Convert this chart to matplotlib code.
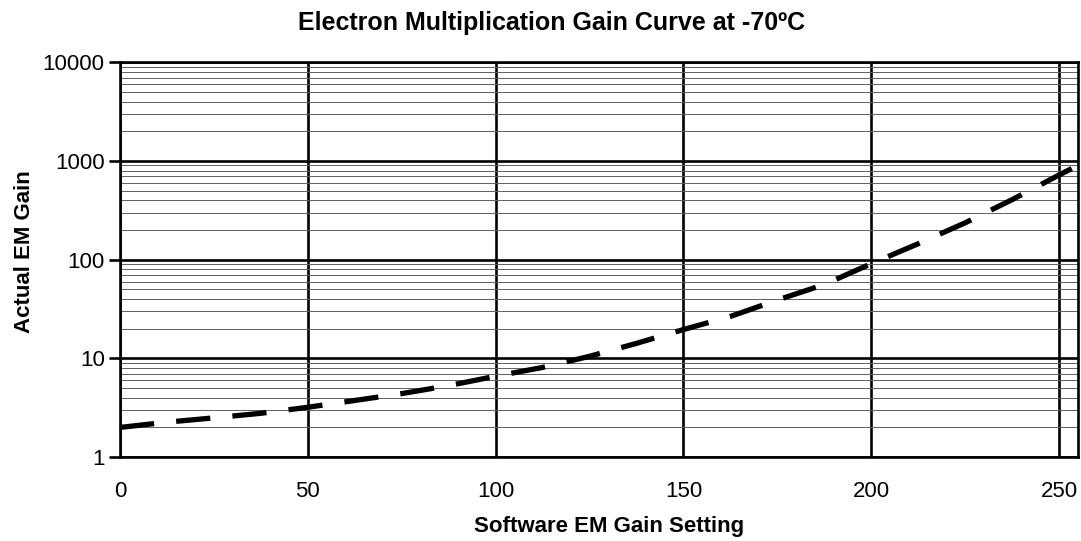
import matplotlib.pyplot as plt
from matplotlib.ticker import LogLocator, FixedLocator, NullFormatter

plt.rcParams['font.family'] = ['Liberation Sans', 'DejaVu Sans']

# values
gain_setting = [0, 12.5, 25, 37.5, 50, 62.5, 75, 87.5, 100, 112.5, 125, 137.5,
                150, 162.5, 175, 187.5, 200, 212.5, 225, 237.5, 250, 255]
actual_gain = [2.0, 2.26, 2.5, 2.78, 3.2, 3.75, 4.4, 5.3, 6.6, 8.1, 10.5, 14.2,
               19.6, 26.6, 39, 56, 91, 145, 236, 405, 720, 900]
x_ticks = [0, 50, 100, 150, 200, 250]
y_ticks = [1, 10, 100, 1000, 10000]

fig = plt.figure(figsize=(10.81, 5.41), dpi=100)
ax = fig.add_axes([0.111, 0.155, 0.886, 0.730])

ax.set_yscale('log')
ax.set_xlim(0, 255)
ax.set_ylim(1, 10000)

# minor horizontal lines, then the heavy major grid
ax.yaxis.set_minor_locator(LogLocator(base=10, subs=range(2, 10)))
ax.yaxis.set_minor_formatter(NullFormatter())
ax.grid(which='minor', axis='y', color='#606060', linewidth=0.7)
ax.grid(which='major', axis='both', color='black', linewidth=1.9)

ax.xaxis.set_major_locator(FixedLocator(x_ticks))
ax.yaxis.set_major_locator(FixedLocator(y_ticks))
ax.set_yticklabels([str(v) for v in y_ticks])
ax.set_xticklabels([str(v) for v in x_ticks])

ax.tick_params(axis='y', which='major', direction='out', length=8, width=1.9,
               labelsize=16, pad=3)
ax.tick_params(axis='y', which='minor', length=0)
ax.tick_params(axis='x', length=0, labelsize=16, pad=17)

for s in ax.spines.values():
    s.set_linewidth(1.9)

ax.plot(gain_setting, actual_gain, color='black', linewidth=3.8,
        dashes=(6.5, 4.2), solid_capstyle='butt', clip_on=False, zorder=5)

fig.text(0.51, 0.957, 'Electron Multiplication Gain Curve at -70ºC',
         fontsize=18, fontweight='bold', ha='center', va='center')
ax.set_xlabel('Software EM Gain Setting', fontsize=16, fontweight='bold')
ax.xaxis.set_label_coords(0.511, -0.148)
ax.set_ylabel('Actual EM Gain', fontsize=16, fontweight='bold')
ax.yaxis.set_label_coords(-0.089, 0.52)

fig.savefig('out.png', dpi=100)
